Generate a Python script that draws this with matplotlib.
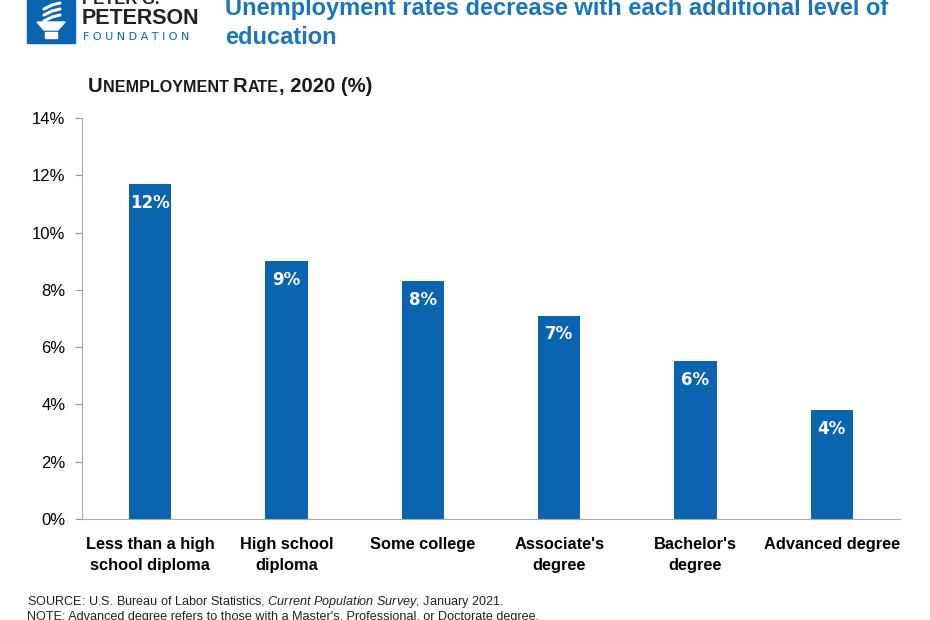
import matplotlib.pyplot as plt
import matplotlib.patches as mpatches
import numpy as np

plt.rcParams['font.family'] = ['Liberation Sans', 'DejaVu Sans']
plt.rcParams['mathtext.fontset'] = 'custom'
plt.rcParams['mathtext.it'] = 'Liberation Sans:italic'
plt.rcParams['mathtext.rm'] = 'Liberation Sans'

# 数据
categories = ['Less than a high\nschool diploma', 'High school\ndiploma', 'Some college',
              "Associate's\ndegree", "Bachelor's\ndegree", 'Advanced degree']
rates = [11.7, 9.0, 8.3, 7.1, 5.5, 3.8]
bar_labels = ['12%', '9%', '8%', '7%', '6%', '4%']
yticks = [0, 2, 4, 6, 8, 10, 12, 14]

blue = '#0a64b0'
title_blue = '#1a75bb'

fig = plt.figure(figsize=(9.3, 6.2), dpi=100)
ax = fig.add_axes([82/930, 1-519/620, 818/930, 401/620])

x = np.arange(len(categories))
bars = ax.bar(x, rates, width=0.31, color=blue)
for b, lab in zip(bars, bar_labels):
    ax.annotate(lab, (b.get_x() + b.get_width()/2, b.get_height()), xytext=(0, -7),
                textcoords='offset points', ha='center', va='top', color='white',
                fontsize=12, fontweight='bold', family=['DejaVu Sans'])

ax.set_xlim(-0.5, len(categories) - 0.5)
ax.set_ylim(0, 14)
ax.set_yticks(yticks)
ax.set_yticklabels([f'{t}%' for t in yticks], fontsize=12)
ax.set_xticks(x)
ax.set_xticklabels(categories, fontsize=11.8, fontweight='bold', linespacing=1.5)
ax.tick_params(axis='x', length=0, pad=13)
ax.tick_params(axis='y', length=5, color='#999999', width=0.8, pad=7)
for s in ['top', 'right']:
    ax.spines[s].set_visible(False)
ax.spines['left'].set_color('#aaaaaa')
ax.spines['bottom'].set_color('#aaaaaa')

# 小型大写的纵轴标题
parts = [('U', 14.6), ('NEMPLOYMENT ', 11.6), ('R', 14.6), ('ATE', 11.6), (', 2020 (%)', 14.6)]
fig.canvas.draw()
r = fig.canvas.get_renderer()
xp = 88
for txt, fs in parts:
    t = fig.text(xp/930, 1-92/620, txt, fontsize=fs, fontweight='bold', color='#1a1a1a',
                 va='baseline')
    bb = t.get_window_extent(renderer=r)
    xp += bb.width

# 标题
fig.text(225/930, 1-8/620, 'Unemployment rates decrease with each additional level of',
         fontsize=17, fontweight='bold', color=title_blue, va='center')
fig.text(225/930, 1-37/620, 'education', fontsize=17, fontweight='bold', color=title_blue, va='center')

# 标志
tf = fig.transFigure
fig.patches.append(mpatches.Rectangle((27/930, 1-43/620), 48/930, 43/620, transform=tf, color=blue))
fig.patches.append(mpatches.Polygon([(37/930, 1-22/620), (65/930, 1-22/620), (58/930, 1-30/620),
                                     (44/930, 1-30/620)], closed=True, transform=tf, color='white'))
fig.patches.append(mpatches.Rectangle((45/930, 1-38/620), 12/930, 6/620, transform=tf, color='white'))
for dy in [3, 9, 15]:
    fig.lines.append(plt.Line2D([44/930, 52/930, 60/930], [1-(dy+6)/620, 1-(dy+2)/620, 1-dy/620],
                                transform=tf, color='white', lw=2.2, solid_capstyle='round'))
fig.text(82/930, 1+1/620, 'PETER G.', fontsize=12, fontweight='bold', color='#222222', va='center')
fig.text(82/930, 1-19/620, 'PETERSON', fontsize=15.5, fontweight='bold', color='#222222', va='center')
fig.text(83/930, 1-37/620, 'F O U N D A T I O N', fontsize=8, color=blue, va='center',
         family=['DejaVu Sans'])

# 来源
fig.text(27/930, 1-602/620, 'SOURCE: U.S. Bureau of Labor Statistics, $\\it{Current\\ Population\\ Survey}$, January 2021.',
         fontsize=9.1, color='#222222', va='center')
fig.text(27/930, 1-617/620, "NOTE: Advanced degree refers to those with a Master's, Professional, or Doctorate degree.",
         fontsize=9.1, color='#222222', va='center')

plt.savefig('out.png', dpi=100)
